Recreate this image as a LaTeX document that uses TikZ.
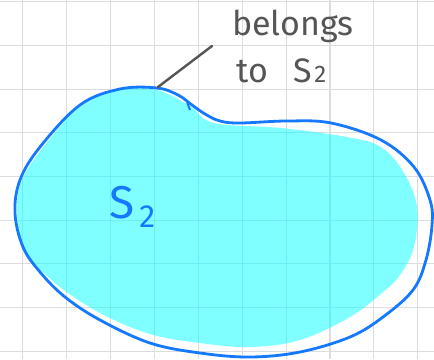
\documentclass[tikz,border=0pt]{standalone}
\usepackage{fontspec}
\setmainfont{Fira Sans}
\definecolor{gridc}{HTML}{DDDDDD}
\definecolor{blobline}{HTML}{1479FF}
\definecolor{blobfill}{HTML}{00FFFF}
\definecolor{inkgray}{HTML}{555555}
\tikzset{
  gridline/.style={draw=gridc, line width=1.1pt},
  outline/.style={draw=blobline, line width=2.8pt, line join=round},
  fillarea/.style={fill=blobfill, fill opacity=0.5},
  pointer/.style={draw=inkgray, line width=2.4pt, line cap=round},
  note/.style={text=inkgray, font=\fontsize{34}{36}\selectfont, inner sep=0pt, align=left},
  setlabel/.style={text=blobline, font=\fontsize{46}{48}\selectfont, inner sep=0pt}
}
\begin{document}
\begin{tikzpicture}[x=1pt,y=-1pt]
\useasboundingbox (0,0) rectangle (434,359);
\fill[white] (0,0) rectangle (434,359);
% grid
\foreach \k in {0,...,9} \draw[gridline] ({22.7+43.9*\k},0) -- ({22.7+43.9*\k},359);
\foreach \k in {0,...,8} \draw[gridline] (0,{1.7+43.7*\k}) -- (434,{1.7+43.7*\k});
% fill
\path[fillarea] plot[smooth cycle, tension=0.6] coordinates {
 (120,90) (157,90) (190,106) (214,123) (281,128) (347,137) (381,147) (404,173)
 (417,207) (414,247) (400,275) (383,292) (350,317) (300,340) (250,347) (200,343)
 (150,334) (100,313) (55,283) (25,250) (17,213) (22,180) (45,145) (80,107)};
% outline
\draw[outline] plot[smooth cycle, tension=0.6] coordinates {
 (120,89) (157,88) (178,95) (192,105) (205,114) (220,121) (240,123) (287,121)
 (331,123) (381,140) (414,167) (430,200) (432,225) (426,260) (413,290) (383,317)
 (350,337) (300,352) (250,357) (200,353) (150,343) (100,320) (65,297) (40,272)
 (23,247) (15,213) (20,180) (40,147) (80,105)};
\coordinate (spur1) at (187,102);
\coordinate (spur2) at (190,110);
\draw[outline, line width=2pt] (spur1) -- (spur2);
% labels
\node[note, anchor=base west] (belongs) at (232,35) {belongs};
\node[note, anchor=base west] (tos) at (236,82) {to\hspace{26pt}S\hspace{2pt}\fontsize{24}{24}\selectfont 2};
\node[setlabel, anchor=base west] (s2) at (109,218) {S\hspace{5pt}\raisebox{-9pt}{\fontsize{32}{32}\selectfont 2}};
% pointer
\coordinate (tip) at (158,87);
\coordinate (tail) at (212,46);
\draw[pointer] (tail) -- (tip);
\end{tikzpicture}
\end{document}
